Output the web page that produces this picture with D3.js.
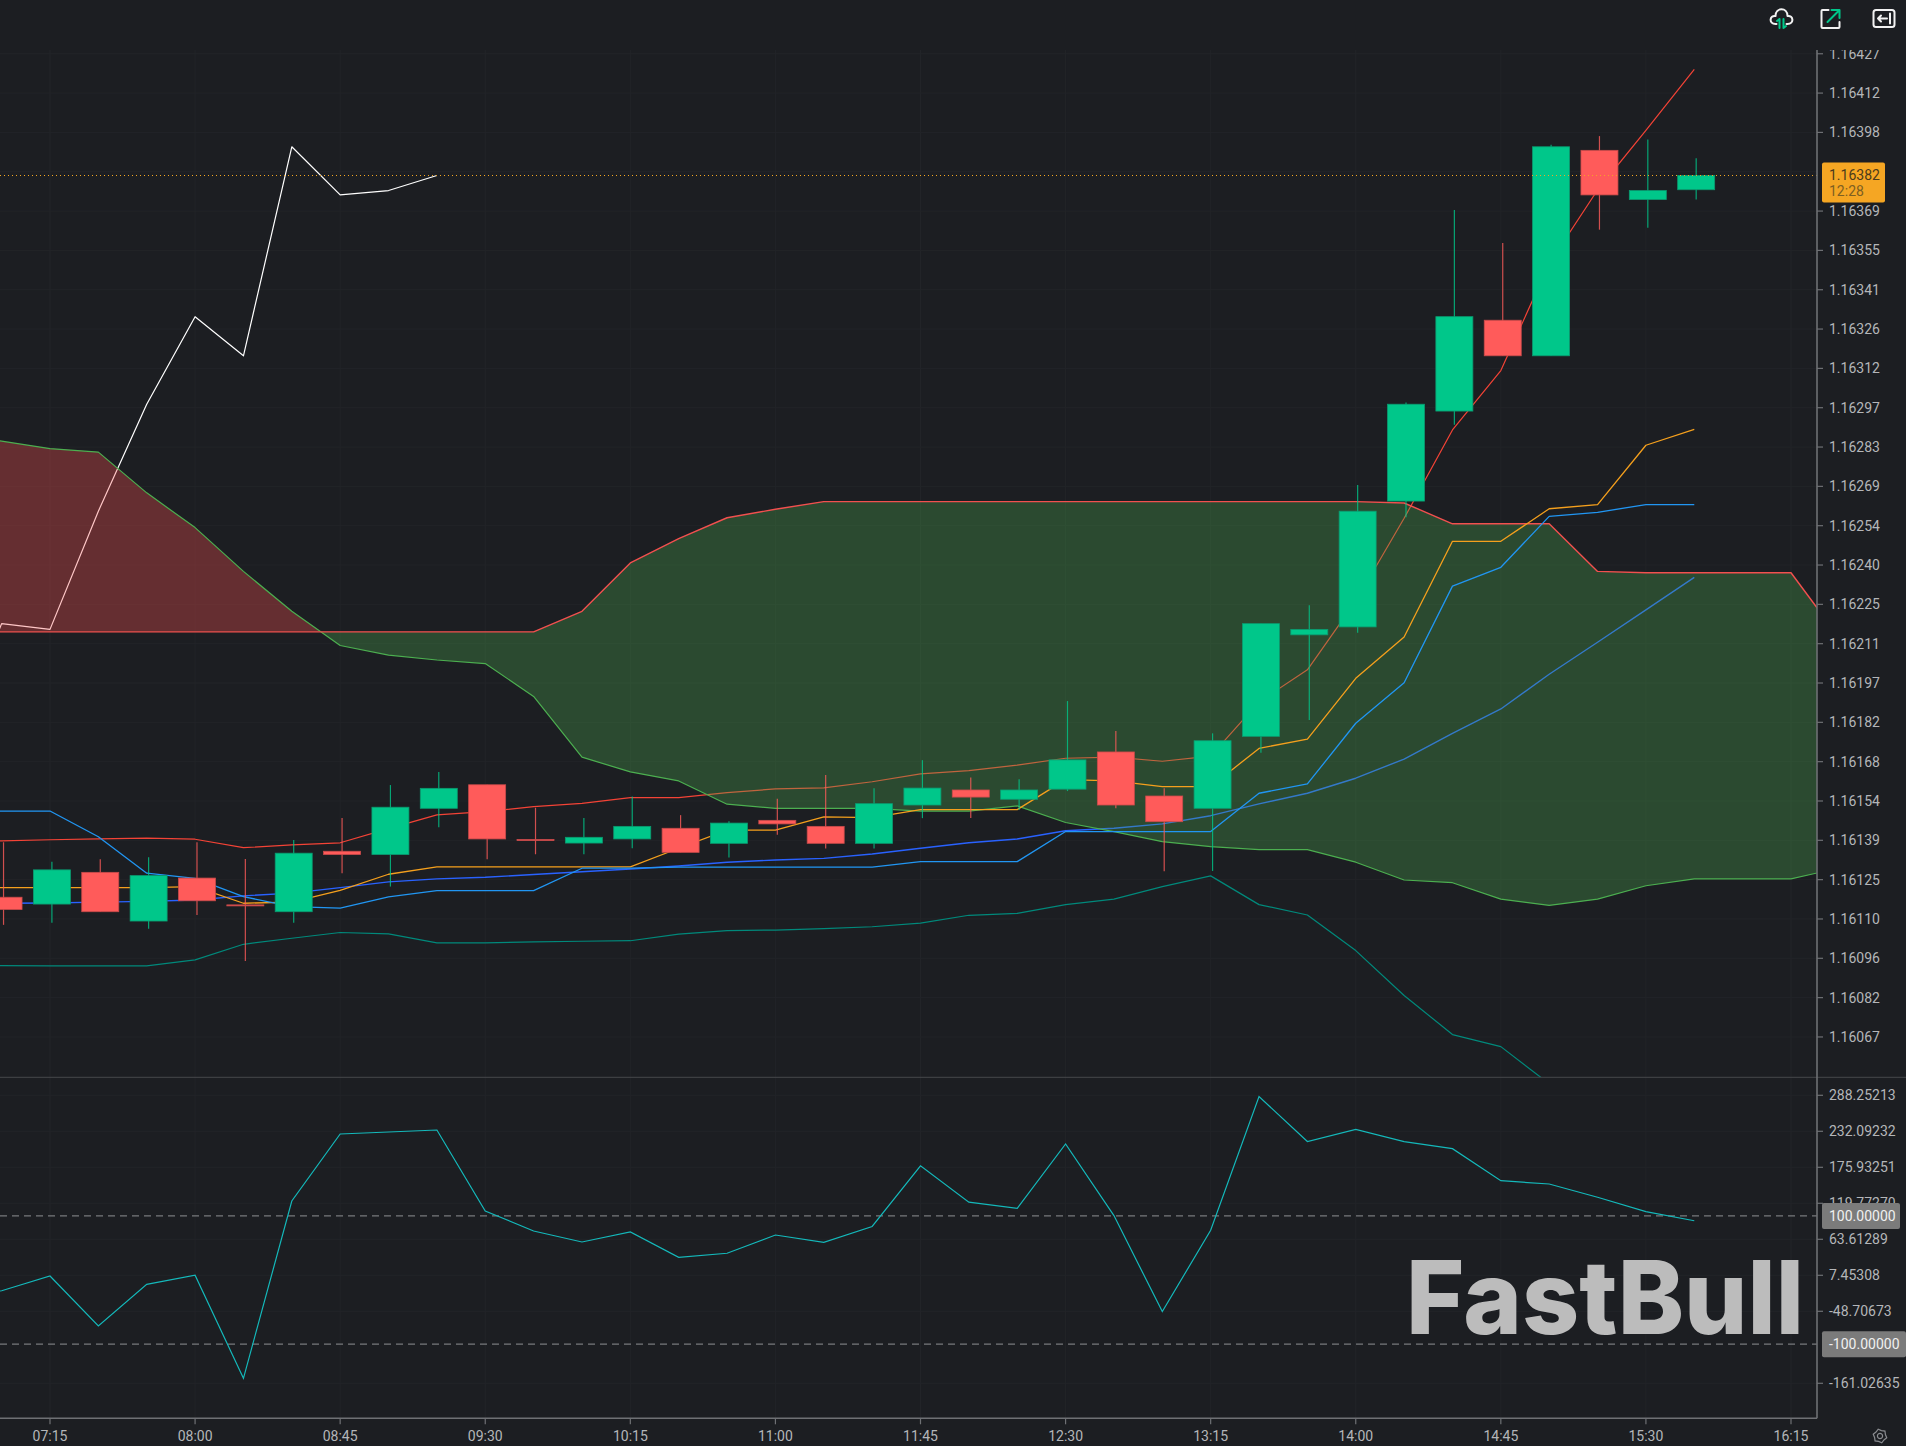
<!DOCTYPE html>
<html>
<head>
<meta charset="utf-8">
<title>EURUSD 15m with Ichimoku cloud and CCI</title>
<script src="https://cdn.jsdelivr.net/npm/d3@7/dist/d3.min.js"></script>
<style>
  html, body { margin: 0; padding: 0; background: #1c1e22; overflow: hidden; }
  svg { display: block; }
  text { font-family: Roboto, "Noto Sans", sans-serif; }
</style>
</head>
<body>
<svg id="chart" width="1906" height="1446"></svg>
<script>
// Bars are 15 minutes apart, first bar at 06:45 (just off the left edge).
const firstBarMinute = 405;
const barStepMinutes = 15;

const opens  = [1.161200,1.161182,1.161157,1.161273,1.161095,1.161252,1.161154,1.161129,1.161350,1.161338,1.161507,1.161593,1.161393,1.161380,1.161395,1.161434,1.161379,1.161463,1.161441,1.161379,1.161519,1.161574,1.161540,1.161577,1.161713,1.161552,1.161507,1.161770,1.162141,1.162170,1.162630,1.162959,1.163291,1.163161,1.163912,1.163732,1.163768];
const highs  = [1.161300,1.161383,1.161312,1.161321,1.161328,1.161383,1.161322,1.161391,1.161472,1.161592,1.161640,1.161593,1.161509,1.161472,1.161550,1.161482,1.161460,1.161542,1.161629,1.161580,1.161683,1.161620,1.161613,1.161899,1.161790,1.161580,1.161781,1.162182,1.162249,1.162689,1.162990,1.163694,1.163573,1.163932,1.163964,1.163952,1.163883];
const lows   = [1.161100,1.161081,1.161089,1.161129,1.161067,1.161117,1.160949,1.161089,1.161270,1.161221,1.161438,1.161321,1.161339,1.161339,1.161361,1.161346,1.161327,1.161410,1.161360,1.161360,1.161471,1.161472,1.161501,1.161570,1.161507,1.161277,1.161278,1.161710,1.161830,1.162149,1.162571,1.162909,1.163161,1.163161,1.163622,1.163629,1.163732];
const closes = [1.161180,1.161137,1.161282,1.161129,1.161261,1.161169,1.161152,1.161343,1.161338,1.161511,1.161580,1.161395,1.161389,1.161401,1.161441,1.161346,1.161453,1.161450,1.161379,1.161524,1.161581,1.161548,1.161574,1.161684,1.161519,1.161458,1.161754,1.162182,1.162161,1.162593,1.162984,1.163304,1.163161,1.163925,1.163749,1.163765,1.163820];

const conversionLine = [1.161385,1.161388,1.161392,1.161395,1.161398,1.161394,1.161363,1.161373,1.161381,1.161433,1.161483,1.161495,1.161513,1.161525,1.161546,1.161546,1.161564,1.161578,1.161582,1.161604,1.161633,1.161645,1.161665,1.161690,1.161694,1.161679,1.161698,1.161896,1.162013,1.162264,1.162567,1.162890,1.163107,1.163498,1.163767,1.163985,1.164208];
const baseLine       = [1.161217,1.161217,1.161217,1.161217,1.161217,1.161221,1.161160,1.161164,1.161207,1.161266,1.161293,1.161293,1.161293,1.161293,1.161293,1.161361,1.161427,1.161427,1.161476,1.161473,1.161502,1.161502,1.161502,1.161612,1.161607,1.161586,1.161586,1.161726,1.161760,1.161982,1.162133,1.162483,1.162483,1.162602,1.162617,1.162834,1.162892];
const fastLine       = [1.161497,1.161497,1.161497,1.161403,1.161270,1.161251,1.161184,1.161148,1.161142,1.161183,1.161206,1.161206,1.161206,1.161288,1.161288,1.161292,1.161292,1.161292,1.161292,1.161292,1.161312,1.161312,1.161312,1.161422,1.161422,1.161422,1.161422,1.161562,1.161596,1.161818,1.161966,1.162319,1.162388,1.162574,1.162589,1.162617,1.162617];
const slowLine       = [1.161158,1.161160,1.161161,1.161164,1.161167,1.161172,1.161187,1.161197,1.161217,1.161238,1.161249,1.161255,1.161265,1.161275,1.161285,1.161296,1.161310,1.161318,1.161324,1.161340,1.161361,1.161381,1.161395,1.161425,1.161434,1.161450,1.161480,1.161523,1.161562,1.161617,1.161687,1.161781,1.161870,1.161997,1.162114,1.162232,1.162351];
const lowerBand      = [1.160932,1.160932,1.160931,1.160931,1.160931,1.160953,1.161010,1.161032,1.161053,1.161048,1.161015,1.161015,1.161019,1.161021,1.161023,1.161047,1.161060,1.161062,1.161067,1.161074,1.161087,1.161116,1.161123,1.161155,1.161175,1.161221,1.161260,1.161155,1.161117,1.160987,1.160823,1.160680,1.160636,1.160500];
const laggingSpan    = [1.161754,1.162182,1.162161,1.162593,1.162984,1.163304,1.163161,1.163925,1.163749,1.163765,1.163820];

const spanA = [1.162880,1.162849,1.162822,1.162809,1.162660,1.162533,1.162373,1.162227,1.162102,1.162067,1.162049,1.162036,1.161916,1.161694,1.161640,1.161607,1.161522,1.161507,1.161507,1.161507,1.161497,1.161497,1.161516,1.161455,1.161422,1.161385,1.161367,1.161356,1.161356,1.161310,1.161245,1.161235,1.161175,1.161152,1.161175,1.161224,1.161249,1.161249,1.161249,1.161289];
const spanB = [1.162152,1.162152,1.162152,1.162152,1.162152,1.162152,1.162152,1.162152,1.162152,1.162152,1.162152,1.162152,1.162152,1.162227,1.162404,1.162493,1.162569,1.162600,1.162628,1.162628,1.162628,1.162628,1.162628,1.162628,1.162628,1.162628,1.162628,1.162628,1.162628,1.162628,1.162623,1.162547,1.162547,1.162547,1.162373,1.162368,1.162368,1.162368,1.162368,1.162130];

const cciValues = [-30.0,-16.6,6.4,-71.6,-6.6,7.5,-153.2,123.4,227.9,231.0,234.1,107.8,76.6,59.4,75.0,35.5,41.8,70.3,58.9,83.6,178.3,121.5,112.0,212.4,100.6,-49.2,77.8,286.4,216.2,235.2,215.9,205.0,155.0,149.9,129.2,106.7,92.6];
const cciBounds = [100, -100];

const timeLabels = ["07:15","08:00","08:45","09:30","10:15","11:00","11:45","12:30","13:15","14:00","14:45","15:30","16:15"];
const priceLabels = ["1.16427","1.16412","1.16398","","1.16369","1.16355","1.16341","1.16326","1.16312","1.16297","1.16283","1.16269","1.16254","1.16240","1.16225","1.16211","1.16197","1.16182","1.16168","1.16154","1.16139","1.16125","1.16110","1.16096","1.16082","1.16067"];
const priceTickTop = 1.164265;
const priceTickStep = 0.00014375;
const cciTicks = [288.25213,232.09232,175.93251,119.77270,63.61289,7.45308,-48.70673,-161.02635];

const lastPrice = 1.16382;
const lastPriceLabel = "1.16382";
const barCountdown = "12:28";

// Colours
const bg = "#1c1e22", upColor = "#00c78a", downColor = "#ff5b5a";
const axisColor = "#6e7074", labelColor = "#b4b6b9", gridColor = "#222428";

const svg = d3.select("#chart");
const W = 1906, H = 1446;
const plotRight = 1817, axisTop = 50, paneDivider = 1077.3, axisBottom = 1418.3;

const x = d3.scaleLinear().domain([435, 975]).range([50, 1791]);
const yPrice = d3.scaleLinear().domain([lastPrice, 1.16067]).range([175.5, 1037.3]);
const yCci = d3.scaleLinear().domain([288.25213, -161.02635]).range([1095.3, 1383.3]);

const barX = i => x(firstBarMinute + i * barStepMinutes);
const toMinutes = s => { const [h, m] = s.split(":").map(Number); return h * 60 + m; };
const priceTickLevels = priceLabels.map((_, k) => priceTickTop - k * priceTickStep);

const defs = svg.append("defs");
defs.append("clipPath").attr("id", "pricePane").append("rect")
  .attr("x", 0).attr("y", 0).attr("width", plotRight).attr("height", paneDivider);
defs.append("clipPath").attr("id", "cciPane").append("rect")
  .attr("x", 0).attr("y", paneDivider).attr("width", plotRight).attr("height", axisBottom - paneDivider);
defs.append("clipPath").attr("id", "axisLabels").append("rect")
  .attr("x", plotRight).attr("y", axisTop).attr("width", W - plotRight).attr("height", H - axisTop);

// Regions used to split the cloud into its two colours at the crossover.
const aboveB = d3.area().x((d, i) => barX(i)).y0(0).y1(d => yPrice(d));
const belowB = d3.area().x((d, i) => barX(i)).y0(d => yPrice(d)).y1(paneDivider);
defs.append("clipPath").attr("id", "cloudAbove").append("path").attr("d", aboveB(spanB));
defs.append("clipPath").attr("id", "cloudBelow").append("path").attr("d", belowB(spanB));

svg.append("rect").attr("width", W).attr("height", H).attr("fill", bg);

// Background grid
const grid = svg.append("g").attr("stroke", gridColor).attr("stroke-width", 1);
grid.selectAll(".gv").data(timeLabels).join("line")
  .attr("x1", d => x(toMinutes(d))).attr("x2", d => x(toMinutes(d)))
  .attr("y1", axisTop).attr("y2", axisBottom);
grid.selectAll(".gp").data(priceTickLevels).join("line")
  .attr("x1", 0).attr("x2", plotRight)
  .attr("y1", d => yPrice(d)).attr("y2", d => yPrice(d));
grid.selectAll(".gc").data(cciTicks).join("line")
  .attr("x1", 0).attr("x2", plotRight)
  .attr("y1", d => yCci(d)).attr("y2", d => yCci(d));

// Price pane
const pane = svg.append("g").attr("clip-path", "url(#pricePane)");
const priceLine = d3.line().x((d, i) => barX(i)).y(d => yPrice(d));
const drawLine = (parent, data, color, width) => parent.append("path")
  .attr("d", priceLine(data)).attr("fill", "none")
  .attr("stroke", color).attr("stroke-width", width).attr("stroke-linejoin", "round");

drawLine(pane, conversionLine, "#f44336", 1.2);
drawLine(pane, slowLine, "#2962ff", 1.4);
drawLine(pane, lowerBand, "#00897b", 1.2);
drawLine(pane, laggingSpan, "#ffffff", 1.2);

// Ichimoku cloud, sitting above the slower lines
const between = d3.area().x((d, i) => barX(i)).y0((d, i) => yPrice(spanB[i])).y1(d => yPrice(d));
pane.append("g").attr("clip-path", "url(#cloudAbove)").append("path")
  .attr("d", between(spanA)).attr("fill", "#ff5252").attr("fill-opacity", 0.32);
pane.append("g").attr("clip-path", "url(#cloudBelow)").append("path")
  .attr("d", between(spanA)).attr("fill", "#4caf50").attr("fill-opacity", 0.31);
drawLine(pane, spanA, "#4caf50", 1.2);
drawLine(pane, spanB, "#f2504f", 1.4);

drawLine(pane, baseLine, "#f5a01d", 1.3);
drawLine(pane, fastLine, "#2196f3", 1.3);

// Candles
const candleWidth = 37;
const candleShift = 1.9;
const candles = opens.map((o, i) => ({ i, o, h: highs[i], l: lows[i], c: closes[i] }));
const candleG = pane.append("g").selectAll("g").data(candles).join("g")
  .attr("transform", d => `translate(${barX(d.i) + candleShift},0)`);
candleG.append("line")
  .attr("y1", d => yPrice(d.h)).attr("y2", d => yPrice(d.l))
  .attr("stroke", d => d.c >= d.o ? upColor : downColor)
  .attr("stroke-width", 1.2).attr("stroke-opacity", 0.8);
candleG.append("rect")
  .attr("x", -candleWidth / 2).attr("width", candleWidth)
  .attr("y", d => yPrice(Math.max(d.o, d.c)))
  .attr("height", d => Math.max(1, Math.abs(yPrice(d.o) - yPrice(d.c))))
  .attr("fill", d => d.c >= d.o ? upColor : downColor)
  .attr("stroke", d => d.c >= d.o ? "#0b9a70" : "#c94a4a")
  .attr("stroke-width", 0.8);

// Last price marker line
svg.append("line").attr("x1", 0).attr("x2", plotRight)
  .attr("y1", yPrice(lastPrice)).attr("y2", yPrice(lastPrice))
  .attr("stroke", "#f5a623").attr("stroke-width", 1).attr("stroke-dasharray", "1 3");

// CCI pane
const ccPane = svg.append("g").attr("clip-path", "url(#cciPane)");
ccPane.selectAll(".bound").data(cciBounds).join("line")
  .attr("x1", 0).attr("x2", plotRight)
  .attr("y1", d => yCci(d)).attr("y2", d => yCci(d))
  .attr("stroke", "#77797c").attr("stroke-width", 1.2).attr("stroke-dasharray", "7 5");
ccPane.append("path")
  .attr("d", d3.line().x((d, i) => barX(i)).y(d => yCci(d))(cciValues))
  .attr("fill", "none").attr("stroke", "#14b8ba").attr("stroke-width", 1.2);

// Brand mark
svg.append("text").text("FastBull")
  .attr("x", 1406).attr("y", 1334)
  .attr("textLength", 398).attr("lengthAdjust", "spacingAndGlyphs")
  .attr("font-size", 102).attr("font-weight", 800)
  .attr("fill", "#bcbcbc")
  .style("font-family", "Inter, Lato, sans-serif");

// Pane divider and axis frame
svg.append("line").attr("x1", 0).attr("x2", W).attr("y1", paneDivider).attr("y2", paneDivider)
  .attr("stroke", "#46484c").attr("stroke-width", 1);
svg.append("line").attr("x1", plotRight).attr("x2", plotRight).attr("y1", axisTop).attr("y2", axisBottom)
  .attr("stroke", axisColor).attr("stroke-width", 1.6);
svg.append("line").attr("x1", 0).attr("x2", plotRight).attr("y1", axisBottom).attr("y2", axisBottom)
  .attr("stroke", axisColor).attr("stroke-width", 1.4);

// Time axis
const timeAxis = svg.append("g").selectAll("g").data(timeLabels).join("g")
  .attr("transform", d => `translate(${x(toMinutes(d))},${axisBottom})`);
timeAxis.append("line").attr("y2", 6).attr("stroke", axisColor).attr("stroke-width", 1.2);
timeAxis.append("text").text(d => d).attr("y", 18).attr("dy", "0.35em")
  .attr("text-anchor", "middle").attr("font-size", 14).attr("fill", labelColor);

// Price axis
const priceAxis = svg.append("g").attr("clip-path", "url(#axisLabels)")
  .selectAll("g").data(priceLabels.map((t, k) => ({ t, v: priceTickLevels[k] })).filter(d => d.t)).join("g")
  .attr("transform", d => `translate(${plotRight},${yPrice(d.v)})`);
priceAxis.append("line").attr("x2", 6).attr("stroke", axisColor).attr("stroke-width", 1.2);
priceAxis.append("text").text(d => d.t).attr("x", 12).attr("dy", "0.35em")
  .attr("font-size", 14).attr("fill", labelColor);

// CCI axis
const cciAxis = svg.append("g").selectAll("g").data(cciTicks).join("g")
  .attr("transform", d => `translate(${plotRight},${yCci(d)})`);
cciAxis.append("line").attr("x2", 6).attr("stroke", axisColor).attr("stroke-width", 1.2);
cciAxis.append("text").text(d => d3.format(".5f")(d).replace("−", "-")).attr("x", 12).attr("dy", "0.35em")
  .attr("font-size", 14).attr("fill", labelColor);

// Value badges on the right axis
const lastBadgeY = yPrice(lastPrice);
svg.append("rect").attr("x", 1822).attr("y", lastBadgeY - 13).attr("width", 63).attr("height", 40)
  .attr("rx", 2).attr("fill", "#f5a623");
svg.append("text").text(lastPriceLabel).attr("x", 1829).attr("y", lastBadgeY).attr("dy", "0.35em")
  .attr("font-size", 14).attr("fill", "#4a3a1c");
svg.append("text").text(barCountdown).attr("x", 1829).attr("y", lastBadgeY + 16).attr("dy", "0.35em")
  .attr("font-size", 14).attr("fill", "#7d5f22");

const boundBadges = svg.append("g").selectAll("g").data(cciBounds).join("g")
  .attr("transform", d => `translate(1822,${yCci(d)})`);
boundBadges.append("rect").attr("y", -13).attr("height", 26).attr("rx", 2)
  .attr("width", d => d < 0 ? 84 : 78).attr("fill", "#7b7b7b");
boundBadges.append("text").text(d => d.toFixed(5)).attr("x", 7).attr("dy", "0.35em")
  .attr("font-size", 14).attr("fill", "#f0f0f0");

// Toolbar icons
const icons = svg.append("g").attr("fill", "none").attr("stroke-linecap", "round").attr("stroke-linejoin", "round");
const cloud = icons.append("g").attr("transform", "translate(1781.5,18)");
cloud.append("path").attr("stroke", "#f2f2f2").attr("stroke-width", 2)
  .attr("d", "M-5 6 H-6 C-13 6 -12 -3 -6 -2 C-6 -11 6 -11 6 -2 C12 -3 13 6 6 6 H5");
cloud.append("path").attr("stroke", upColor).attr("stroke-width", 2)
  .attr("d", "M-2 10 V1 M-4.5 3 L-2 1 M2 1 V10 M2 10 L4.5 8");
const share = icons.append("g").attr("transform", "translate(1830.5,19)");
share.append("path").attr("stroke", "#f2f2f2").attr("stroke-width", 2)
  .attr("d", "M-2 -9 H-8 Q-9 -9 -9 -8 V8 Q-9 9 -8 9 H8 Q9 9 9 8 V3");
share.append("path").attr("stroke", upColor).attr("stroke-width", 2)
  .attr("d", "M-3 3 L8 -8 M1 -9 H9 V-1");
const collapse = icons.append("g").attr("transform", "translate(1884,18.5)");
collapse.append("rect").attr("x", -10.5).attr("y", -8.5).attr("width", 21).attr("height", 17).attr("rx", 2.5)
  .attr("stroke", "#f2f2f2").attr("stroke-width", 2);
collapse.append("path").attr("stroke", "#f2f2f2").attr("stroke-width", 2)
  .attr("d", "M3 0 H-6 M-3 -3 L-6 0 L-3 3 M6 -5 V5");

// Settings gear
const gear = svg.append("g").attr("transform", "translate(1880,1436)").attr("fill", "none")
  .attr("stroke", "#8a8c90").attr("stroke-width", 1.2);
gear.append("circle").attr("r", 2.6);
gear.append("path").attr("d", d3.line().curve(d3.curveLinearClosed)(
  d3.range(12).map(k => {
    const a = k * Math.PI / 6, r = k % 2 ? 5.6 : 7;
    return [r * Math.cos(a + Math.PI / 12), r * Math.sin(a + Math.PI / 12)];
  })));
</script>
</body>
</html>
